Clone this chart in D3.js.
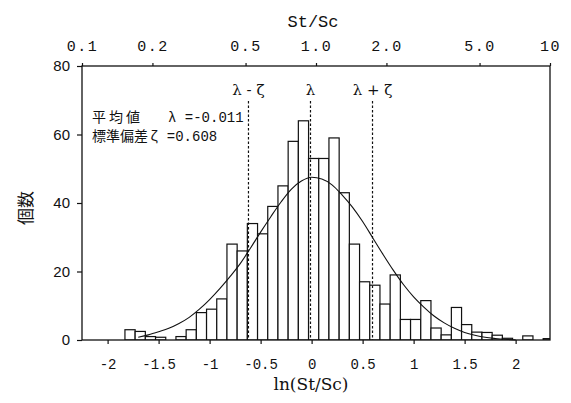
<!DOCTYPE html>
<html>
<head>
<meta charset="utf-8">
<script src="https://cdn.jsdelivr.net/npm/d3@7"></script>
<style>
body { margin: 0; background: #fff; }
</style>
</head>
<body>
<div id="chart"></div>
<script>
// histogram of ln(St/Sc), bins of 0.1
var binStart = -1.83;
var binWidth = 0.1;
var counts = [3, 2.5, 1, 0.8, 0, 1, 3, 8, 9, 12,
              28, 26, 34, 31, 39, 45, 58, 64, 53, 53,
              59, 43, 28, 17, 16, 10.5, 19, 6, 6, 11.5,
              3.5, 1.5, 9.5, 4.5, 2.3, 2.2, 1.4, 0.5, 0, 1.2,
              0, 0.4];

// fitted normal curve
var curveX = [-1.7, -1.6, -1.5, -1.4, -1.3, -1.2, -1.1, -1.0, -0.9, -0.8,
              -0.7, -0.6, -0.5, -0.4, -0.3, -0.2, -0.1, 0.0, 0.1, 0.2,
              0.3, 0.4, 0.5, 0.6, 0.7, 0.8, 0.9, 1.0, 1.1, 1.2,
              1.3, 1.4, 1.5, 1.6, 1.7, 1.8, 1.9, 2.0];
var curveY = [0.8, 1.5, 2.4, 3.4, 4.8, 6.6, 9.0, 11.8, 15, 18.5,
              22.3, 26.8, 31.5, 36, 40.3, 44, 46.4, 47.5, 47, 45.3,
              42.3, 38.8, 34.6, 29.8, 25, 20.4, 16.2, 12.6, 9.6, 7.0,
              5.0, 3.4, 2.2, 1.4, 0.8, 0.45, 0.2, 0.05];

var lambda = -0.011;
var zeta = 0.608;

var yTicks = [0, 20, 40, 60, 80];
var bottomTicks = [-2, -1.5, -1, -0.5, 0, 0.5, 1, 1.5, 2];
var bottomLabels = ["-2", "-1.5", "-1", "-0.5", "0", "0.5", "1", "1.5", "2"];
var topTicks = [0.1, 0.2, 0.5, 1, 2, 5, 10];
var topLabels = ["0.1", "0.2", "0.5", "1.0", "2.0", "5.0", "10"];

var W = 571, H = 403;
var plot = {left: 82, right: 550, top: 66, bottom: 340};
var ink = "#111";

var svg = d3.select("#chart")
    .append("svg")
    .attr("width", W)
    .attr("height", H);

var x = d3.scaleLinear()
    .domain([-2.251, 2.337])
    .range([plot.left, plot.right]);
var xTop = d3.scaleLog()
    .domain([0.1, 10])
    .range([plot.left, plot.right]);
var y = d3.scaleLinear()
    .domain([0, 80])
    .range([plot.bottom, plot.top]);

svg.append("clipPath")
    .attr("id", "plotclip")
    .append("rect")
    .attr("x", plot.left).attr("y", plot.top)
    .attr("width", plot.right - plot.left)
    .attr("height", plot.bottom - plot.top);

// bars
var bins = counts.map(function(c, i) {
    return {x0: binStart + i * binWidth, x1: binStart + (i + 1) * binWidth, n: c};
}).filter(function(d) { return d.n > 0; });

svg.append("g")
    .attr("clip-path", "url(#plotclip)")
    .selectAll("rect")
    .data(bins)
    .enter().append("rect")
    .attr("x", function(d) { return x(d.x0); })
    .attr("width", function(d) { return x(d.x1) - x(d.x0); })
    .attr("y", function(d) { return y(d.n); })
    .attr("height", function(d) { return y(0) - y(d.n); })
    .attr("fill", "#fff")
    .attr("stroke", ink)
    .attr("stroke-width", 1.2);

// dashed lines at lambda, lambda +- zeta
var marks = [
    {v: lambda - zeta, label: "λ - ζ"},
    {v: lambda, label: "λ"},
    {v: lambda + zeta, label: "λ + ζ"}
];
svg.selectAll("line.mark")
    .data(marks)
    .enter().append("line")
    .attr("class", "mark")
    .attr("x1", function(d) { return x(d.v); })
    .attr("x2", function(d) { return x(d.v); })
    .attr("y1", 101)
    .attr("y2", plot.bottom)
    .attr("stroke", ink)
    .attr("stroke-width", 1.2)
    .attr("stroke-dasharray", "2.5,2");
svg.selectAll("text.mark")
    .data(marks)
    .enter().append("text")
    .attr("class", "mark")
    .attr("x", function(d) { return x(d.v); })
    .attr("y", 95)
    .attr("text-anchor", "middle")
    .attr("font-family", "DejaVu Serif")
    .attr("font-size", 15)
    .attr("fill", ink)
    .text(function(d) { return d.label; });

// normal curve
var pts = curveX.map(function(v, i) { return [v, curveY[i]]; });
svg.append("path")
    .datum(pts)
    .attr("fill", "none")
    .attr("stroke", ink)
    .attr("stroke-width", 1.1)
    .attr("d", d3.line()
        .curve(d3.curveMonotoneX)
        .x(function(d) { return x(d[0]); })
        .y(function(d) { return y(d[1]); })
    );

// frame
svg.append("rect")
    .attr("x", plot.left).attr("y", plot.top)
    .attr("width", plot.right - plot.left)
    .attr("height", plot.bottom - plot.top)
    .attr("fill", "none")
    .attr("stroke", ink)
    .attr("stroke-width", 1.3);

// axes
var yAxis = svg.append("g")
    .attr("transform", "translate(" + plot.left + ",0)")
    .call(d3.axisLeft(y).tickValues(yTicks).tickSize(5).tickSizeOuter(0).tickPadding(7));
yAxis.selectAll("text")
    .attr("font-family", "Liberation Sans")
    .attr("font-size", 15)
    .attr("fill", ink);

var xAxis = svg.append("g")
    .attr("transform", "translate(0," + plot.bottom + ")")
    .call(d3.axisBottom(x).tickValues(bottomTicks).tickSize(4).tickSizeOuter(0).tickPadding(15)
        .tickFormat(function(d, i) { return bottomLabels[i]; }));
xAxis.selectAll("text")
    .attr("font-family", "Liberation Mono")
    .attr("font-size", 14)
    .attr("fill", ink);

var tAxis = svg.append("g")
    .attr("transform", "translate(0," + plot.top + ")")
    .call(d3.axisTop(xTop).tickValues(topTicks).tickSize(3).tickSizeOuter(0).tickPadding(12)
        .tickFormat(function(d, i) { return topLabels[i]; }));
tAxis.selectAll("text")
    .attr("font-family", "Liberation Mono")
    .attr("font-size", 15)
    .attr("letter-spacing", 1.5)
    .attr("fill", ink);

[yAxis, xAxis, tAxis].forEach(function(a) {
    a.select(".domain").remove();
    a.selectAll("line").attr("stroke", ink).attr("stroke-width", 1.2);
});

// titles
svg.append("text")
    .attr("x", 313).attr("y", 27)
    .attr("text-anchor", "middle")
    .attr("font-family", "Liberation Mono")
    .attr("font-size", 17)
    .attr("fill", ink)
    .text("St/Sc");
svg.append("text")
    .attr("x", 311).attr("y", 390)
    .attr("text-anchor", "middle")
    .attr("font-family", "DejaVu Serif")
    .attr("font-size", 17)
    .attr("fill", ink)
    .text("ln(St/Sc)");
svg.append("text")
    .attr("transform", "translate(32,208) rotate(-90)")
    .attr("text-anchor", "middle")
    .attr("font-family", "Noto Sans CJK JP")
    .attr("font-size", 17)
    .attr("fill", ink)
    .text("個数");

// statistics note
var note1 = svg.append("text")
    .attr("x", 92).attr("y", 122)
    .attr("fill", ink);
note1.append("tspan")
    .attr("font-family", "Noto Sans CJK JP")
    .attr("font-size", 14)
    .attr("letter-spacing", 3)
    .text("平均値");
note1.append("tspan")
    .attr("x", 168)
    .attr("font-family", "Liberation Mono")
    .attr("font-size", 14)
    .text("λ =-0.011");

var note2 = svg.append("text")
    .attr("x", 92).attr("y", 141)
    .attr("fill", ink);
note2.append("tspan")
    .attr("font-family", "Noto Sans CJK JP")
    .attr("font-size", 14)
    .text("標準偏差");
note2.append("tspan")
    .attr("x", 150)
    .attr("font-family", "Liberation Mono")
    .attr("font-size", 14)
    .text("ζ =" + zeta.toFixed(3));
</script>
</body>
</html>
